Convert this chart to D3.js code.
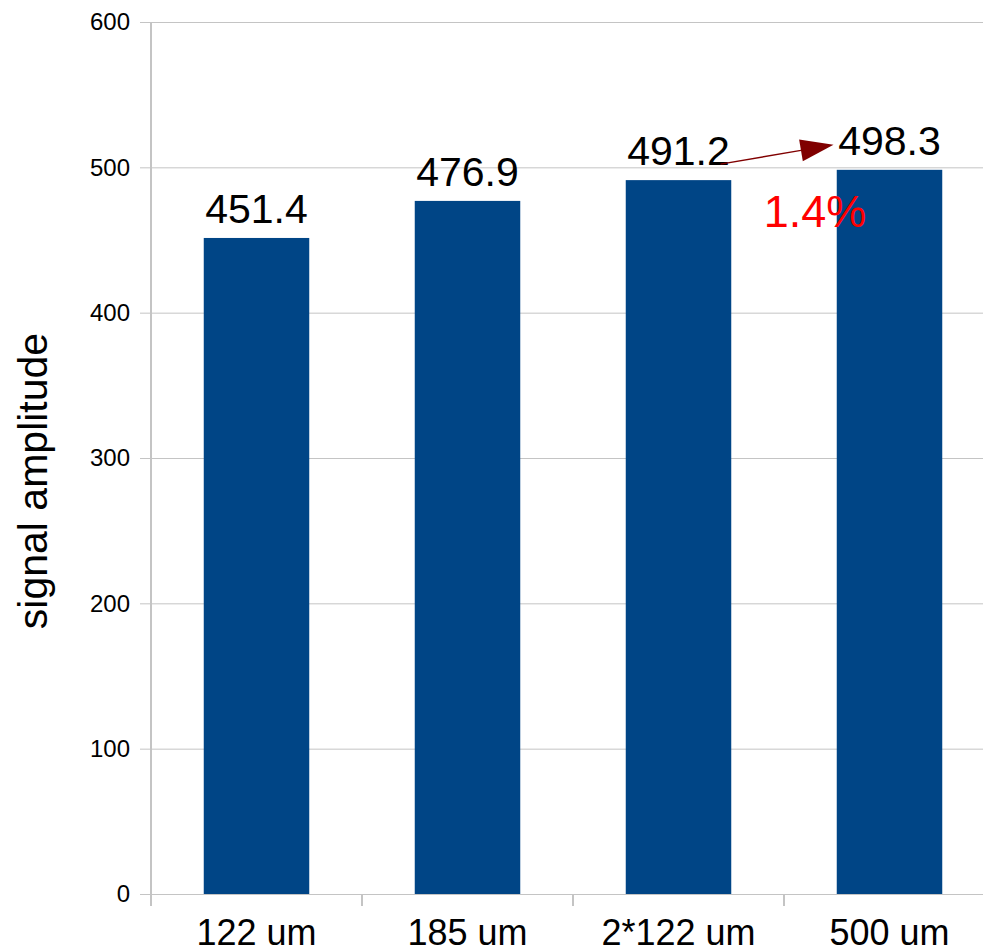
<!DOCTYPE html>
<html><head><meta charset="utf-8">
<script src="https://cdn.jsdelivr.net/npm/d3@7"></script>
<style>body{margin:0;background:#fff}svg{display:block;font-family:"Liberation Sans",Arial,sans-serif}</style>
</head><body>
<svg id="c" width="983" height="950"></svg>
<script>
const categories = ["122 um", "185 um", "2*122 um", "500 um"];
const values = [451.4, 476.9, 491.2, 498.3];
const yTicks = [0, 100, 200, 300, 400, 500, 600];
const annotationText = "1.4%";

(function () {
const svg = d3.select("#c");
const pLeft = 151, pRight = 995, pTop = 22, pBottom = 894;
const x = d3.scaleBand().domain(categories).range([pLeft, pRight]).paddingInner(0).paddingOuter(0);
const y = d3.scaleLinear().domain([0, 600]).range([pBottom, pTop]);
const grid = "#c4c4c4";

// gridlines
svg.append("g").selectAll("line").data(yTicks).join("line")
  .attr("x1", 140).attr("x2", 983)
  .attr("y1", d => y(d) + 0.5).attr("y2", d => y(d) + 0.5)
  .attr("stroke", grid).attr("stroke-width", 1);

// y tick labels
svg.append("g").selectAll("text").data(yTicks).join("text")
  .attr("x", 130).attr("y", d => y(d)).attr("dy", "0.35em")
  .attr("text-anchor", "end").attr("font-size", 24).attr("fill", "#000")
  .text(d => d);

// y axis line
svg.append("line").attr("x1", pLeft).attr("x2", pLeft).attr("y1", pTop).attr("y2", 906)
  .attr("stroke", grid).attr("stroke-width", 2);

// x ticks at band boundaries
svg.append("g").selectAll("line").data(categories.slice(1)).join("line")
  .attr("x1", d => x(d)).attr("x2", d => x(d))
  .attr("y1", pBottom).attr("y2", 906)
  .attr("stroke", grid).attr("stroke-width", 2);

// bars
const bw = x.bandwidth() * 0.5;
svg.append("g").selectAll("rect").data(values).join("rect")
  .attr("x", (d, i) => x(categories[i]) + (x.bandwidth() - bw) / 2)
  .attr("width", bw)
  .attr("y", d => y(d))
  .attr("height", d => y(0) - y(d))
  .attr("fill", "#004586");

// value labels
svg.append("g").selectAll("text").data(values).join("text")
  .attr("x", (d, i) => x(categories[i]) + x.bandwidth() / 2)
  .attr("y", d => y(d) - 15)
  .attr("text-anchor", "middle").attr("font-size", 41).attr("fill", "#000")
  .text(d => d.toFixed(1));

// category labels
svg.append("g").selectAll("text").data(categories).join("text")
  .attr("x", d => x(d) + x.bandwidth() / 2)
  .attr("y", 945)
  .attr("text-anchor", "middle").attr("font-size", 36).attr("fill", "#000")
  .text(d => d);

// y axis title
svg.append("text").attr("transform", "translate(47,481) rotate(-90)")
  .attr("text-anchor", "middle").attr("font-size", 41).attr("fill", "#000")
  .text("signal amplitude");

// annotation arrow between bar 3 and bar 4 labels
const x3 = x(categories[2]) + x.bandwidth() / 2, x4 = x(categories[3]) + x.bandwidth() / 2;
const sx = x3 + 42, sy = y(values[2]) - 16;
const ex = x4 - 56, ey = y(values[3]) - 25;
const ang = Math.atan2(ey - sy, ex - sx);
const hl = 33, hw = 11;
const bx = ex - hl * Math.cos(ang), by = ey - hl * Math.sin(ang);
svg.append("line").attr("x1", sx).attr("y1", sy).attr("x2", bx).attr("y2", by)
  .attr("stroke", "#800000").attr("stroke-width", 1.5);
svg.append("polygon")
  .attr("points", [[ex, ey], [bx - hw * Math.sin(ang), by + hw * Math.cos(ang)], [bx + hw * Math.sin(ang), by - hw * Math.cos(ang)]].map(p => p.join(",")).join(" "))
  .attr("fill", "#800000");

svg.append("text").attr("x", 815).attr("y", 227)
  .attr("text-anchor", "middle").attr("font-size", 45).attr("fill", "#ff0000")
  .text(annotationText);
})();
</script>
</body></html>
